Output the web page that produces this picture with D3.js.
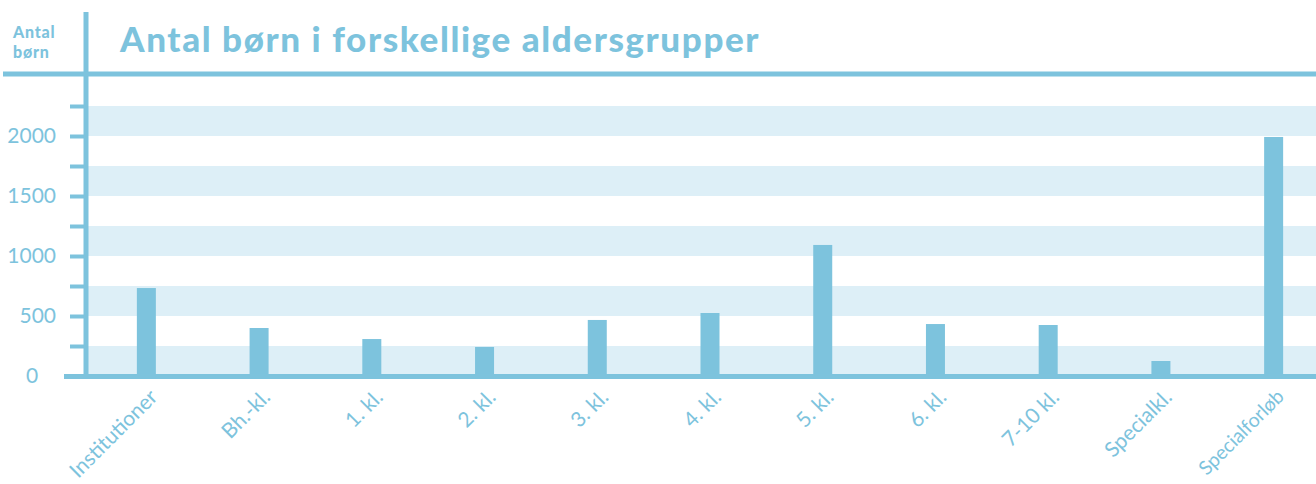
<!DOCTYPE html>
<html>
<head>
<meta charset="utf-8">
<script src="https://cdn.jsdelivr.net/npm/d3@7"></script>
<style>
  body { margin: 0; background: #fff; }
  svg { display: block; font-family: Lato, "Open Sans", sans-serif; }
</style>
</head>
<body>
<script>

var categories = ["Institutioner", "Bh.-kl.", "1. kl.", "2. kl.", "3. kl.", "4. kl.", "5. kl.", "6. kl.", "7-10 kl.", "Specialkl.", "Specialforløb"];
var values = [733, 400, 308, 242, 467, 525, 1092, 433, 425, 125, 1992];
var labelTicks = [0, 500, 1000, 1500, 2000];
var title = "Antal børn i forskellige aldersgrupper";
var yTitle = ["Antal", "børn"];

var color = "#7dc3dd";
var band = "#ddeff7";

var width = 1316, height = 484;

var svg = d3.select("body").append("svg").attr("width", width).attr("height", height);

var x = d3.scaleBand()
            .domain(categories)
            .range([90, 1330]);

var y = d3.scaleLinear()
            .domain([0, 2500])
            .range([376, 76]);

// light stripes every other 250
var stripes = d3.range(0, 2500, 500);
svg.append("g").selectAll("rect")
    .data(stripes)
    .enter().append("rect")
    .attr("x", 88)
    .attr("width", width - 88)
    .attr("y", function(d){ return y(d + 250); })
    .attr("height", function(d){ return y(d) - y(d + 250); })
    .attr("fill", band);

// bars
var barW = 19;
svg.append("g").selectAll("rect")
    .data(values)
    .enter().append("rect")
    .attr("x", function(d,i){ return x(categories[i]) + x.bandwidth()/2 - barW/2; })
    .attr("width", barW)
    .attr("y", function(d){ return y(d); })
    .attr("height", function(d){ return y(0) - y(d); })
    .attr("fill", color);

// y axis with ticks every 250
var yAxis = d3.axisLeft(y)
    .tickValues(d3.range(250, 2500, 250))
    .tickSize(16)
    .tickFormat("");

var ga = svg.append("g")
    .attr("transform", "translate(86,0)")
    .call(yAxis);
ga.select(".domain").remove();
ga.selectAll("line").attr("stroke", color).attr("stroke-width", 4);

// frame lines
svg.append("line").attr("x1", 86).attr("x2", 86).attr("y1", 12).attr("y2", 379)
    .attr("stroke", color).attr("stroke-width", 5);
svg.append("line").attr("x1", 3).attr("x2", width).attr("y1", 74).attr("y2", 74)
    .attr("stroke", color).attr("stroke-width", 5);
svg.append("line").attr("x1", 64).attr("x2", width).attr("y1", 376.5).attr("y2", 376.5)
    .attr("stroke", color).attr("stroke-width", 5);

// y tick labels
svg.append("g").selectAll("text")
    .data(labelTicks)
    .enter().append("text")
    .attr("x", function(d){ return d === 0 ? 32 : 56; })
    .attr("y", function(d){ return y(d); })
    .attr("dy", "0.35em")
    .attr("text-anchor", function(d){ return d === 0 ? "middle" : "end"; })
    .attr("fill", color)
    .attr("font-size", 21)
    .text(function(d){ return d; });

// x labels
svg.append("g").selectAll("text")
    .data(categories)
    .enter().append("text")
    .attr("transform", function(d){
        return "translate(" + (x(d) + x.bandwidth()/2 + 2) + ",388) rotate(-45)";
    })
    .attr("text-anchor", "end")
    .attr("dy", "0.7em")
    .attr("fill", color)
    .attr("font-size", function(d,i){ return i === categories.length - 1 ? 19.5 : 21; })
    .text(function(d){ return d; });

// titles
svg.append("text")
    .attr("x", 120).attr("y", 52)
    .attr("fill", color)
    .attr("font-size", 35)
    .attr("font-weight", 900)
    .attr("letter-spacing", 1.6)
    .text(title);

svg.append("g").selectAll("text")
    .data(yTitle)
    .enter().append("text")
    .attr("x", 13)
    .attr("y", function(d,i){ return 38 + i*20; })
    .attr("fill", color)
    .attr("font-size", 16)
    .attr("font-weight", 900)
    .attr("letter-spacing", 0.8)
    .text(function(d){ return d; });

</script>
</body>
</html>
